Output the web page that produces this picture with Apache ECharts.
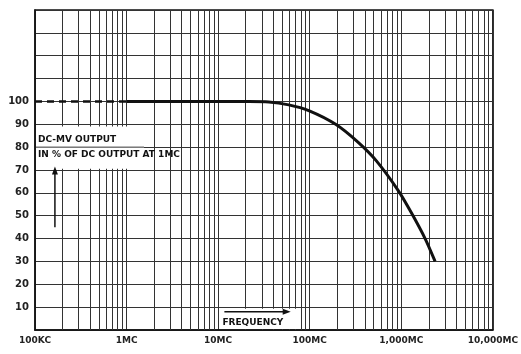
<!DOCTYPE html>
<html><head><meta charset="utf-8">
<script src="https://cdn.jsdelivr.net/npm/echarts@6/dist/echarts.min.js"></script>
<style>html,body{margin:0;padding:0;background:#fff}#c{width:521px;height:354px}</style>
</head><body><div id="c"></div>
<script>
// Data
const dashedFreq = [1e5, 1e6];
const dashedVal = [100, 100];
const curveFreq = [1e6, 1e7, 2.17e7, 3.58e7, 5.91e7, 9.75e7, 1.92e8, 3.41e8, 5.35e8, 9.27e8, 1.28e9, 1.82e9, 2.34e9];
const curveVal  = [100, 100, 100, 99.8, 98.5, 96, 90, 82, 74, 61, 51.5, 40, 30];
const xTickValues = [1e5, 1e6, 1e7, 1e8, 1e9, 1e10];
const xTickLabels = ['100KC', '1MC', '10MC', '100MC', '1,000MC', '10,000MC'];
const yTickLabels = [10, 20, 30, 40, 50, 60, 70, 80, 90, 100];
const minorMult = [2, 3, 4, 5, 6, 7, 8, 9];
const decades = [1e5, 1e6, 1e7, 1e8, 1e9];

const minorLines = [];
decades.forEach(d => minorMult.forEach(m => minorLines.push({ xAxis: d * m })));

const FONT = 'DejaVu Sans';
const chart = echarts.init(document.getElementById('c'), null, { renderer: 'canvas' });
chart.setOption({
  animation: false,
  backgroundColor: '#fff',
  grid: { left: 35, right: 27, top: 10, bottom: 24, show: true, borderColor: '#111', borderWidth: 1.5 },
  xAxis: {
    type: 'log', logBase: 10, min: 1e5, max: 1e10,
    axisLine: { show: true, lineStyle: { color: '#111', width: 1.5 } },
    axisTick: { show: false },
    splitLine: { show: true, lineStyle: { color: '#333', width: 1 } },
    axisLabel: {
      margin: 6, color: '#222', fontFamily: FONT, fontSize: 9, fontWeight: 'bold',
      formatter: v => { const i = xTickValues.findIndex(t => Math.abs(Math.log10(t) - Math.log10(v)) < 1e-6); return i >= 0 ? xTickLabels[i] : ''; }
    }
  },
  yAxis: {
    type: 'value', min: 0, max: 140, interval: 10,
    axisLine: { show: true, lineStyle: { color: '#111', width: 1.5 } },
    axisTick: { show: false },
    splitLine: { show: true, lineStyle: { color: '#333', width: 1 } },
    axisLabel: {
      margin: 6, color: '#222', fontFamily: FONT, fontSize: 10, fontWeight: 'bold',
      formatter: v => yTickLabels.indexOf(v) >= 0 ? String(v) : ''
    }
  },
  series: [
    {
      type: 'line', data: [], silent: true,
      markLine: { silent: true, symbol: ['none', 'none'], label: { show: false },
        lineStyle: { color: '#333', width: 1, type: 'solid' }, data: minorLines }
    },
    {
      type: 'line', showSymbol: false, z: 5,
      data: dashedFreq.map((f, i) => [f, dashedVal[i]]),
      lineStyle: { color: '#111', width: 2.5, type: [7, 5] }
    },
    {
      type: 'line', showSymbol: false, smooth: 0.3, z: 5,
      data: curveFreq.map((f, i) => [f, curveVal[i]]),
      lineStyle: { color: '#111', width: 3 }
    }
  ]
});

// annotations placed through the axes' scales
function P(x, y) { return chart.convertToPixel({ gridIndex: 0 }, [x, y]); }
const p80 = P(1e5, 80);
const boxL = P(1e5, 0)[0] + 1;
const boxR = P(1.55e6, 0)[0];
const fL = P(1.08e7, 0)[0], fR = P(7.2e7, 0)[0];
const yb = P(1e5, 0)[1];
const a1 = P(1.65e5, 45), a2 = P(1.65e5, 71.5);
const fa1 = P(1.17e7, 8), fa2 = P(6.2e7, 8);
chart.setOption({
  graphic: [
    { type: 'rect', z: 10, shape: { x: boxL, y: P(1e5, 89)[1], width: boxR - boxL, height: P(1e5, 70.5)[1] - P(1e5, 89)[1] }, style: { fill: '#fff' } },
    { type: 'line', z: 11, shape: { x1: boxL, y1: p80[1], x2: boxR, y2: p80[1] }, style: { stroke: '#333', lineWidth: 1 } },
    { type: 'text', z: 12, x: boxL + 2, y: P(1e5, 83.2)[1], style: { text: 'DC-MV OUTPUT', fill: '#111', font: 'bold 9px "DejaVu Sans"', textVerticalAlign: 'middle' } },
    { type: 'text', z: 12, x: boxL + 2, y: P(1e5, 76.8)[1], style: { text: 'IN % OF DC OUTPUT AT 1MC', fill: '#111', font: 'bold 9px "DejaVu Sans"', textVerticalAlign: 'middle' } },
    { type: 'line', z: 12, shape: { x1: a1[0], y1: a1[1], x2: a2[0], y2: a2[1] + 6 }, style: { stroke: '#111', lineWidth: 1.5 } },
    { type: 'polygon', z: 12, shape: { points: [[a2[0], a2[1]], [a2[0] - 3, a2[1] + 8], [a2[0] + 3, a2[1] + 8]] }, style: { fill: '#111' } },
    { type: 'rect', z: 10, shape: { x: fL, y: P(1e5, 9.3)[1], width: fR - fL, height: yb - P(1e5, 9.3)[1] - 1 }, style: { fill: '#fff' } },
    { type: 'line', z: 12, shape: { x1: fa1[0], y1: fa1[1], x2: fa2[0] - 6, y2: fa2[1] }, style: { stroke: '#111', lineWidth: 1.5 } },
    { type: 'polygon', z: 12, shape: { points: [[fa2[0], fa2[1]], [fa2[0] - 8, fa2[1] - 3], [fa2[0] - 8, fa2[1] + 3]] }, style: { fill: '#111' } },
    { type: 'text', z: 12, x: fa1[0] - 2, y: P(1e5, 3)[1], style: { text: 'FREQUENCY', fill: '#111', font: 'bold 9px "DejaVu Sans"', textVerticalAlign: 'middle' } }
  ]
});
</script>
</body></html>
